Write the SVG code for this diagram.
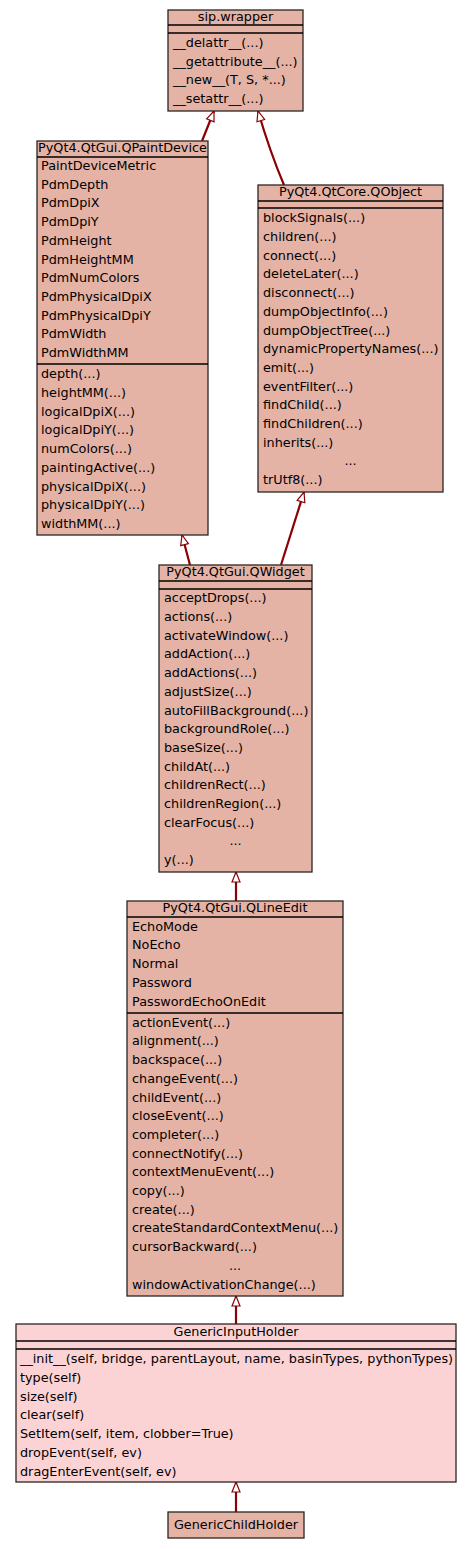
<svg xmlns="http://www.w3.org/2000/svg" width="472" height="1549" viewBox="0 0 472 1549">
<style>
text{font-family:"DejaVu Sans","Liberation Sans",sans-serif;font-size:12.8px;fill:#000}
.t{text-anchor:middle}
.c{text-anchor:middle}
.box{fill:#e4b3a6;stroke:#2b2523;stroke-width:1.3}
.box2{fill:#fcd3d5;stroke:#2b2523;stroke-width:1.3}
.sep{stroke:#000;stroke-width:1.6}
.edge{fill:none;stroke:#8b0000;stroke-width:2.2;marker-end:url(#inh)}
</style>
<defs>
<marker id="inh" viewBox="0 0 10 8" refX="10" refY="4" markerWidth="10" markerHeight="8" markerUnits="userSpaceOnUse" orient="auto" overflow="visible">
<path d="M0,0 L10,4 L0,8 Z" fill="#fff" stroke="#8b0000" stroke-width="1.2"/>
</marker>
</defs>
<g id="connectors">
<path class="edge" d="M202,141 L214,111"/>
<path class="edge" d="M284,185 Q270,152 258,111"/>
<path class="edge" d="M190,565 L182,535"/>
<path class="edge" d="M281,565 L304,492"/>
<path class="edge" d="M236,901 L236,872"/>
<path class="edge" d="M236,1324 L236,1296"/>
<path class="edge" d="M236,1512 L236,1482"/>
</g>
<g id="sip_wrapper">
<rect class="box" x="168" y="10" width="135" height="101"/>
<line class="sep" x1="168" y1="25" x2="303" y2="25"/>
<line class="sep" x1="168" y1="33" x2="303" y2="33"/>
<text class="t" x="235.5" y="21">sip.wrapper</text>
<text x="173" y="47">__delattr__(...)</text>
<text x="173" y="65.7">__getattribute__(...)</text>
<text x="173" y="84.4">__new__(T, S, *...)</text>
<text x="173" y="103.1">__setattr__(...)</text>
</g>
<g id="QPaintDevice">
<rect class="box" x="37" y="141" width="171" height="394"/>
<line class="sep" x1="37" y1="157" x2="208" y2="157"/>
<line class="sep" x1="37" y1="364" x2="208" y2="364"/>
<text class="t" x="122.5" y="152">PyQt4.QtGui.QPaintDevice</text>
<text x="41" y="170">PaintDeviceMetric</text>
<text x="41" y="188.7">PdmDepth</text>
<text x="41" y="207.4">PdmDpiX</text>
<text x="41" y="226.1">PdmDpiY</text>
<text x="41" y="244.8">PdmHeight</text>
<text x="41" y="263.5">PdmHeightMM</text>
<text x="41" y="282.2">PdmNumColors</text>
<text x="41" y="300.9">PdmPhysicalDpiX</text>
<text x="41" y="319.6">PdmPhysicalDpiY</text>
<text x="41" y="338.3">PdmWidth</text>
<text x="41" y="357">PdmWidthMM</text>
<text x="41" y="378.3">depth(...)</text>
<text x="41" y="397">heightMM(...)</text>
<text x="41" y="415.7">logicalDpiX(...)</text>
<text x="41" y="434.4">logicalDpiY(...)</text>
<text x="41" y="453.1">numColors(...)</text>
<text x="41" y="471.8">paintingActive(...)</text>
<text x="41" y="490.5">physicalDpiX(...)</text>
<text x="41" y="509.2">physicalDpiY(...)</text>
<text x="41" y="527.9">widthMM(...)</text>
</g>
<g id="QObject">
<rect class="box" x="258" y="185" width="185" height="307"/>
<line class="sep" x1="258" y1="201" x2="443" y2="201"/>
<line class="sep" x1="258" y1="208" x2="443" y2="208"/>
<text class="t" x="350.5" y="196">PyQt4.QtCore.QObject</text>
<text x="263" y="222.3">blockSignals(...)</text>
<text x="263" y="241">children(...)</text>
<text x="263" y="259.7">connect(...)</text>
<text x="263" y="278.4">deleteLater(...)</text>
<text x="263" y="297.1">disconnect(...)</text>
<text x="263" y="315.8">dumpObjectInfo(...)</text>
<text x="263" y="334.5">dumpObjectTree(...)</text>
<text x="263" y="353.2">dynamicPropertyNames(...)</text>
<text x="263" y="371.9">emit(...)</text>
<text x="263" y="390.6">eventFilter(...)</text>
<text x="263" y="409.3">findChild(...)</text>
<text x="263" y="428">findChildren(...)</text>
<text x="263" y="446.7">inherits(...)</text>
<text class="c" x="350.5" y="465.4">...</text>
<text x="263" y="484.1">trUtf8(...)</text>
</g>
<g id="QWidget">
<rect class="box" x="159" y="565" width="153" height="307"/>
<line class="sep" x1="159" y1="581" x2="312" y2="581"/>
<line class="sep" x1="159" y1="589" x2="312" y2="589"/>
<text class="t" x="235.5" y="576">PyQt4.QtGui.QWidget</text>
<text x="164" y="602.3">acceptDrops(...)</text>
<text x="164" y="621">actions(...)</text>
<text x="164" y="639.7">activateWindow(...)</text>
<text x="164" y="658.4">addAction(...)</text>
<text x="164" y="677.1">addActions(...)</text>
<text x="164" y="695.8">adjustSize(...)</text>
<text x="164" y="714.5">autoFillBackground(...)</text>
<text x="164" y="733.2">backgroundRole(...)</text>
<text x="164" y="751.9">baseSize(...)</text>
<text x="164" y="770.6">childAt(...)</text>
<text x="164" y="789.3">childrenRect(...)</text>
<text x="164" y="808">childrenRegion(...)</text>
<text x="164" y="826.7">clearFocus(...)</text>
<text class="c" x="235.5" y="845.4">...</text>
<text x="164" y="864.1">y(...)</text>
</g>
<g id="QLineEdit">
<rect class="box" x="127" y="901" width="216" height="395"/>
<line class="sep" x1="127" y1="917" x2="343" y2="917"/>
<line class="sep" x1="127" y1="1013" x2="343" y2="1013"/>
<text class="t" x="235" y="912">PyQt4.QtGui.QLineEdit</text>
<text x="132" y="930.7">EchoMode</text>
<text x="132" y="949.4">NoEcho</text>
<text x="132" y="968.1">Normal</text>
<text x="132" y="986.8">Password</text>
<text x="132" y="1005.5">PasswordEchoOnEdit</text>
<text x="132" y="1026.7">actionEvent(...)</text>
<text x="132" y="1045.4">alignment(...)</text>
<text x="132" y="1064.1">backspace(...)</text>
<text x="132" y="1082.8">changeEvent(...)</text>
<text x="132" y="1101.5">childEvent(...)</text>
<text x="132" y="1120.2">closeEvent(...)</text>
<text x="132" y="1138.9">completer(...)</text>
<text x="132" y="1157.6">connectNotify(...)</text>
<text x="132" y="1176.3">contextMenuEvent(...)</text>
<text x="132" y="1195">copy(...)</text>
<text x="132" y="1213.7">create(...)</text>
<text x="132" y="1232.4">createStandardContextMenu(...)</text>
<text x="132" y="1251.1">cursorBackward(...)</text>
<text class="c" x="235" y="1269.8">...</text>
<text x="132" y="1288.5">windowActivationChange(...)</text>
</g>
<g id="GenericInputHolder">
<rect class="box2" x="16" y="1324" width="440" height="158"/>
<line class="sep" x1="16" y1="1341" x2="456" y2="1341"/>
<line class="sep" x1="16" y1="1349" x2="456" y2="1349"/>
<text class="t" x="236" y="1336">GenericInputHolder</text>
<text x="20" y="1363.3">__init__(self, bridge, parentLayout, name, basinTypes, pythonTypes)</text>
<text x="20" y="1382">type(self)</text>
<text x="20" y="1400.7">size(self)</text>
<text x="20" y="1419.4">clear(self)</text>
<text x="20" y="1438.1">SetItem(self, item, clobber=True)</text>
<text x="20" y="1456.8">dropEvent(self, ev)</text>
<text x="20" y="1475.5">dragEnterEvent(self, ev)</text>
</g>
<g id="GenericChildHolder">
<rect class="box" x="168" y="1512" width="136" height="26"/>
<text class="t" x="236" y="1529">GenericChildHolder</text>
</g>
</svg>
